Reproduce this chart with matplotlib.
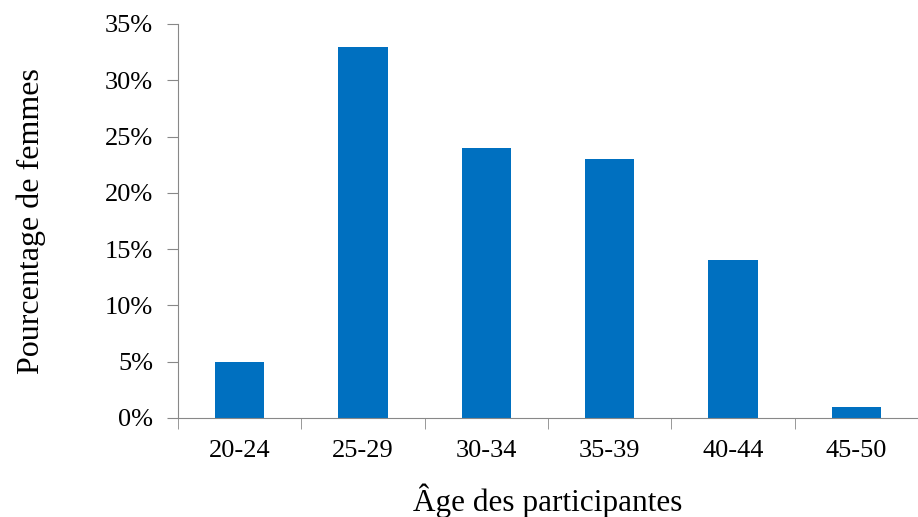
import numpy as np
import matplotlib.pyplot as plt
from matplotlib.ticker import PercentFormatter

categories = ["20-24", "25-29", "30-34", "35-39", "40-44", "45-50"]
valeurs = [5, 33, 24, 23, 14, 1]

plt.rcParams['font.family'] = ['Liberation Serif', 'DejaVu Serif']

fig = plt.figure(figsize=(9.18, 5.17), dpi=100)
ax = fig.add_axes([178 / 918, 99 / 517, 740 / 918, (418 - 24) / 517])

x = np.arange(len(categories))
ax.bar(x, valeurs, width=0.4, color='#0070C0')

ax.set_ylim(0, 35)
ax.set_xlim(-0.5, -0.5 + 740 / 124.6)
ax.set_yticks(np.arange(0, 36, 5))
ax.yaxis.set_major_formatter(PercentFormatter(decimals=0))

ax.set_xticks(x)
ax.set_xticklabels(categories)
ax.set_xticks(np.arange(-0.5, len(categories), 1), minor=True)
ax.tick_params(axis='x', which='major', length=0, pad=16, labelsize=19)
ax.tick_params(axis='x', which='minor', length=8, color='#888888', direction='out')
ax.tick_params(axis='y', length=8, color='#888888', labelsize=19, pad=10)

for s in ['top', 'right']:
    ax.spines[s].set_visible(False)
ax.spines['left'].set_color('#888888')
ax.spines['bottom'].set_color('#888888')

ax.set_xlabel("Âge des participantes", fontsize=22.5, labelpad=15)
ax.set_ylabel("Pourcentage de femmes", fontsize=23, labelpad=42)

fig.savefig("out.png", dpi=100)
